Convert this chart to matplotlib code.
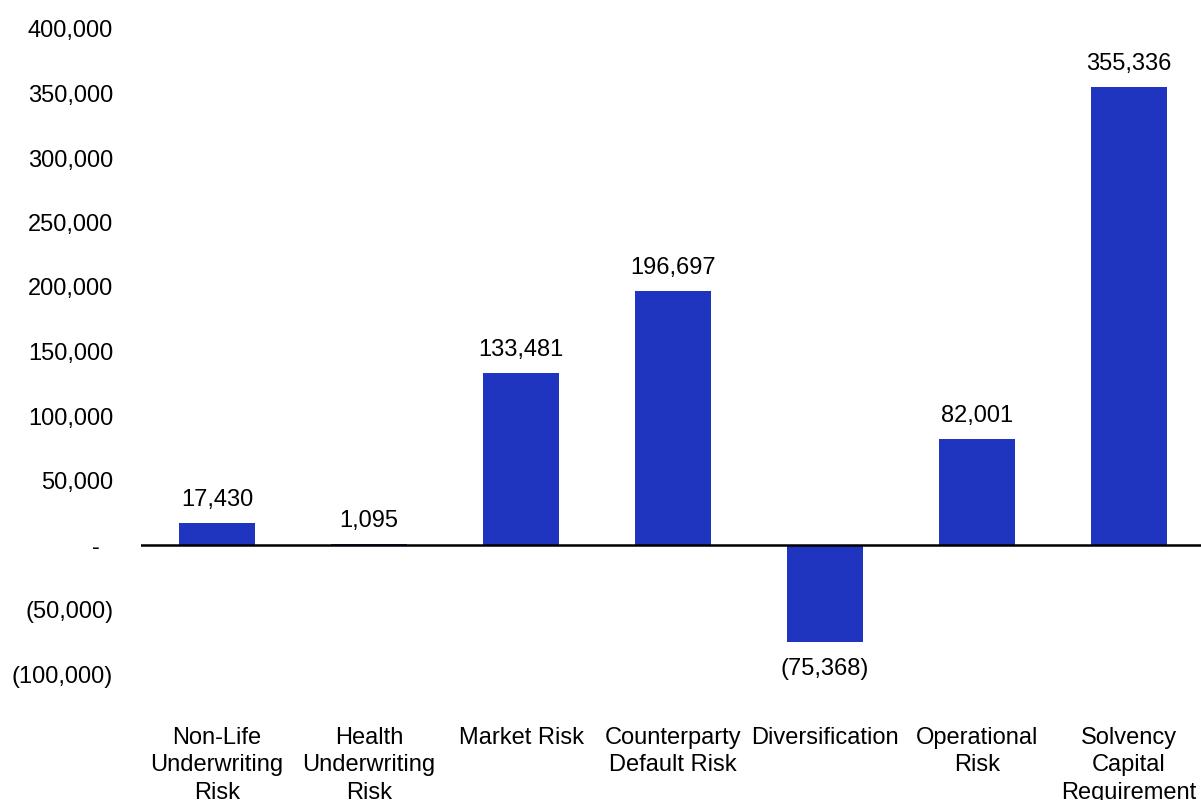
import matplotlib
matplotlib.use("Agg")
import matplotlib.pyplot as plt

plt.rcParams['font.family'] = ['Liberation Sans', 'DejaVu Sans']

categories = ["Non-Life\nUnderwriting\nRisk", "Health\nUnderwriting\nRisk", "Market Risk",
              "Counterparty\nDefault Risk", "Diversification", "Operational\nRisk",
              "Solvency\nCapital\nRequirement"]
values = [17430, 1095, 133481, 196697, -75368, 82001, 355336]
yticks = [-100000, -50000, 0, 50000, 100000, 150000, 200000, 250000, 300000, 350000, 400000]


def fmt(v):
    if v == 0:
        return "-  "
    if v < 0:
        return "({:,})".format(-v)
    return "{:,}".format(v)


fig = plt.figure(figsize=(12.01, 8.0), dpi=100)
ax = fig.add_axes([0.1174, 0.1575, 0.886, 0.80625])

x = range(len(categories))
ax.bar(x, values, width=0.5, color="#1f35c0", zorder=2)
ax.axhline(0, color="black", lw=1.8, zorder=3)

for xi, v in zip(x, values):
    if v >= 0:
        ax.annotate(fmt(v), (xi, v), xytext=(0, 16.5), textcoords="offset points",
                    ha="center", va="center", fontsize=17)
    else:
        ax.annotate(fmt(v), (xi, v), xytext=(0, -19), textcoords="offset points",
                    ha="center", va="center", fontsize=17)

ax.set_xlim(-0.5, 6.5)
ax.set_ylim(-100000, 400000)
ax.set_yticks(yticks)
ax.set_yticklabels([fmt(t) for t in yticks], fontsize=17)
ax.set_xticks(list(x))
ax.set_xticklabels(categories, fontsize=17, linespacing=1.32)
ax.tick_params(axis="y", length=0, pad=20)
ax.tick_params(axis="x", length=0, pad=38)
for s in ax.spines.values():
    s.set_visible(False)

fig.savefig("out.png", dpi=100)
